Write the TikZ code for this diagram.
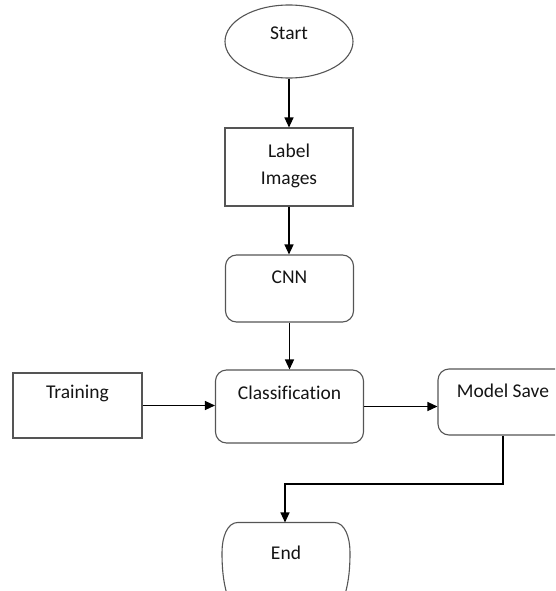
\documentclass[tikz,border=0pt]{standalone}
\usepackage{fontspec}
\setmainfont[Ligatures=NoCommon]{Carlito}
\usetikzlibrary{shapes.geometric,arrows.meta,calc}
\definecolor{boxline}{HTML}{555555}
\definecolor{txt}{HTML}{141414}
\tikzset{
  base/.style={draw=boxline, line width=1.1pt, text=txt, inner xsep=0pt, inner ysep=0pt,
    font=\fontsize{19.5}{27}\selectfont},
  sqbox/.style={base, rectangle, minimum width=128pt},
  rbox/.style={base, rectangle, rounded corners=11pt},
  oval/.style={base, ellipse, minimum width=128pt, minimum height=73pt},
  conn/.style={draw=black, line width=1.3pt, -{Triangle[length=10pt,width=9pt]}},
}
\begin{document}
\begin{tikzpicture}[x=1pt,y=-1pt]
\clip (0,0) rectangle (555,591);
\node[oval, text height=10pt, text depth=13pt] (start) at (289,41.5) {Start};
\node[sqbox, text height=29pt, text depth=49pt] (label) at (289,167)
  {\begin{tabular}[t]{@{}c@{}}Label\\Images\end{tabular}};
\node[rbox, minimum width=128pt, text height=28pt, text depth=39pt] (cnn) at (289.5,288.5) {CNN};
\node[rbox, minimum width=148pt, text height=29pt, text depth=44pt] (cls) at (289.5,406.5) {Classification};
\node[sqbox, minimum width=129pt, text height=25pt, text depth=40pt] (train) at (77.5,405.5) {Training};
\node[rbox, minimum width=130pt, text height=28pt, text depth=38pt] (ms) at (503,402) {Model Save};
\node[base, draw=none, minimum width=128pt, text height=36pt, text depth=37pt] (end) at (286,559.5) {End};
\begin{scope}[shift={(end.north)}]
  \draw[draw=boxline, line width=1.1pt]
    (-59,72) .. controls (-63,58) and (-64,45) .. (-64,30)
    .. controls (-64,15) and (-59,0) .. (-48,0) -- (48,0)
    .. controls (59,0) and (64,15) .. (64,30)
    .. controls (64,45) and (63,58) .. (59,72);
\end{scope}
\coordinate (bend) at (503,484);
\draw[conn] (start) -- (label);
\draw[conn] (label) -- (label.south |- cnn.north);
\draw[conn] (cnn.south) -- (cnn.south |- cls.north);
\draw[conn] (train.east) -- (train.east -| cls.west);
\draw[conn] (cls.east) -- (cls.east -| ms.west);
\draw[conn] (ms.south) -- (bend) -| ([xshift=-1pt]end.north);
\end{tikzpicture}
\end{document}
